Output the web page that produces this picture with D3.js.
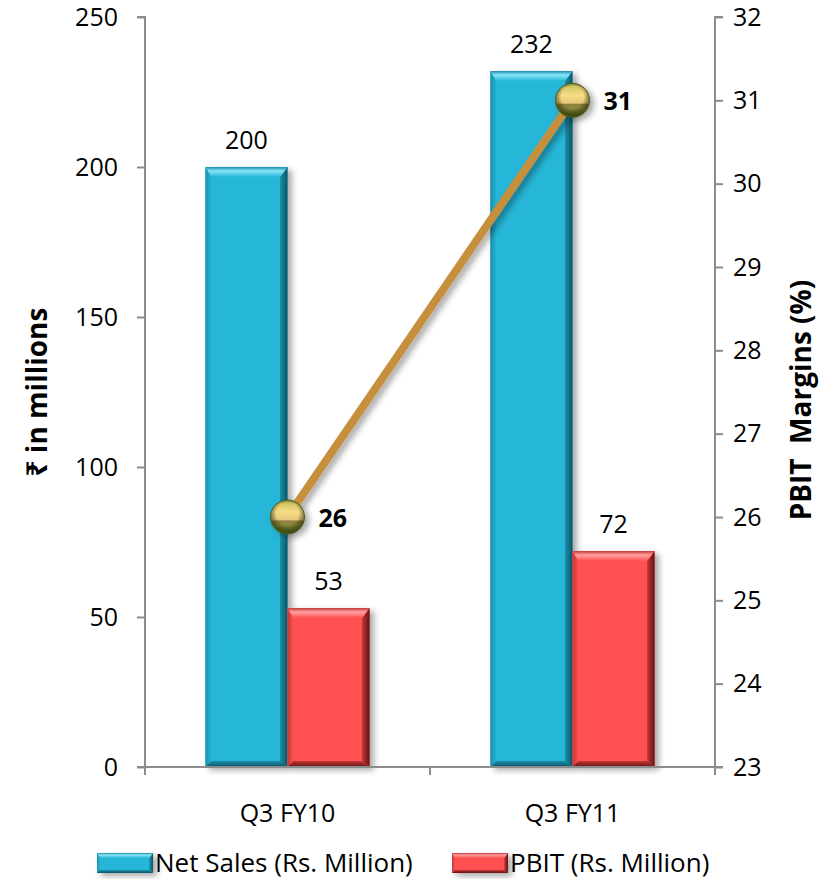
<!DOCTYPE html>
<html>
<head>
<meta charset="utf-8">
<script src="https://cdn.jsdelivr.net/npm/d3@7"></script>
<style>
  html, body { margin: 0; padding: 0; background: #fff; }
  svg text { font-family: "Open Sans", "Noto Sans", "DejaVu Sans", sans-serif; }
</style>
</head>
<body>
<svg id="chart" width="829" height="879"></svg>
<script>
// Quarterly figures
const categories = ["Q3 FY10", "Q3 FY11"];
const netSales = [200, 232];
const pbit = [53, 72];
const pbitMargin = [26, 31];
const seriesNames = ["Net Sales (Rs. Million)", "PBIT (Rs. Million)"];
const leftTicks = [0, 50, 100, 150, 200, 250];
const rightTicks = [23, 24, 25, 26, 27, 28, 29, 30, 31, 32];

const svg = d3.select("#chart");
const plot = { left: 145, right: 715, top: 17, bottom: 767 };
const fs = 25;

const x = d3.scaleBand().domain(categories).range([plot.left, plot.right]).paddingInner(0).paddingOuter(0);
const yL = d3.scaleLinear().domain([0, 250]).range([plot.bottom, plot.top]);
const yR = d3.scaleLinear().domain([23, 32]).range([plot.bottom, plot.top]);
const barW = x.bandwidth() * 0.288;

const palette = [
  { base: "#25B6D7", light: "#8AE6F7", dark: "#0D5567", mid: "#1B8FAA" },
  { base: "#FF5151", light: "#FFA0A0", dark: "#661212", mid: "#C23737" }
];

const defs = svg.append("defs");
const shadow = defs.append("filter").attr("id", "shadow")
  .attr("x", "-20%").attr("y", "-20%").attr("width", "150%").attr("height", "150%");
shadow.append("feGaussianBlur").attr("in", "SourceAlpha").attr("stdDeviation", 3);
shadow.append("feOffset").attr("dx", 4).attr("dy", 3).attr("result", "off");
shadow.append("feComponentTransfer").append("feFuncA").attr("type", "linear").attr("slope", 0.35);
const merge = shadow.append("feMerge");
merge.append("feMergeNode");
merge.append("feMergeNode").attr("in", "SourceGraphic");

palette.forEach((p, i) => {
  const gt = defs.append("linearGradient").attr("id", "top" + i).attr("x1", 0).attr("y1", 0).attr("x2", 0).attr("y2", 1);
  gt.append("stop").attr("offset", "0%").attr("stop-color", p.mid);
  gt.append("stop").attr("offset", "40%").attr("stop-color", p.light);
  gt.append("stop").attr("offset", "100%").attr("stop-color", p.base);
  const gr = defs.append("linearGradient").attr("id", "right" + i).attr("x1", 0).attr("y1", 0).attr("x2", 1).attr("y2", 0);
  gr.append("stop").attr("offset", "0%").attr("stop-color", p.mid);
  gr.append("stop").attr("offset", "100%").attr("stop-color", p.dark);
  const gl = defs.append("linearGradient").attr("id", "left" + i).attr("x1", 0).attr("y1", 0).attr("x2", 1).attr("y2", 0);
  gl.append("stop").attr("offset", "0%").attr("stop-color", p.mid);
  gl.append("stop").attr("offset", "100%").attr("stop-color", p.base);
  const gb = defs.append("linearGradient").attr("id", "bottom" + i).attr("x1", 0).attr("y1", 0).attr("x2", 0).attr("y2", 1);
  gb.append("stop").attr("offset", "0%").attr("stop-color", p.mid);
  gb.append("stop").attr("offset", "100%").attr("stop-color", p.dark);
});

// Sphere marker gradients
const sph = defs.append("linearGradient").attr("id", "sphere").attr("x1", 0).attr("y1", 0).attr("x2", 0).attr("y2", 1);
[["0%", "#8E9A3A"], ["12%", "#D6C868"], ["35%", "#F7DC86"], ["58%", "#E7C77A"], ["62%", "#8E7E3C"], ["75%", "#8D8E3B"], ["100%", "#5E7020"]]
  .forEach(([o, c]) => sph.append("stop").attr("offset", o).attr("stop-color", c));
const sphShade = defs.append("radialGradient").attr("id", "sphereShade").attr("cx", "50%").attr("cy", "40%").attr("r", "55%");
sphShade.append("stop").attr("offset", "60%").attr("stop-color", "#000").attr("stop-opacity", 0);
sphShade.append("stop").attr("offset", "100%").attr("stop-color", "#2F3A08").attr("stop-opacity", 0.7);

// Beveled bar drawing
function bevelBar(g, x0, x1, y0, y1, i, b) {
  const grp = g.append("g").attr("filter", "url(#shadow)");
  const p = palette[i];
  grp.append("rect").attr("x", x0).attr("y", y0).attr("width", x1 - x0).attr("height", y1 - y0).attr("fill", p.base);
  const poly = (pts, fill) => grp.append("polygon").attr("points", pts.map(d => d.join(",")).join(" ")).attr("fill", fill);
  poly([[x0, y0], [x0 + b * 0.6, y0 + b], [x0 + b * 0.6, y1 - b * 0.6], [x0, y1]], `url(#left${i})`);
  poly([[x1, y0], [x1, y1], [x1 - b * 0.75, y1 - b * 0.6], [x1 - b * 0.75, y0 + b]], `url(#right${i})`);
  poly([[x0, y1], [x0 + b * 0.6, y1 - b * 0.6], [x1 - b * 0.75, y1 - b * 0.6], [x1, y1]], `url(#bottom${i})`);
  poly([[x0, y0], [x1, y0], [x1 - b * 0.75, y0 + b], [x0 + b * 0.6, y0 + b]], `url(#top${i})`);
}

// Axes
const axisColor = "#8C8C8C";
const gL = svg.append("g").attr("transform", `translate(${plot.left},0)`)
  .call(d3.axisLeft(yL).tickValues(leftTicks).tickSize(8).tickPadding(19));
const gR = svg.append("g").attr("transform", `translate(${plot.right},0)`)
  .call(d3.axisRight(yR).tickValues(rightTicks).tickSize(8).tickPadding(10));
[gL, gR].forEach(g => {
  g.select(".domain").attr("stroke", axisColor).attr("stroke-width", 2);
  g.selectAll(".tick line").attr("stroke", axisColor).attr("stroke-width", 2);
  g.selectAll(".tick text").attr("font-size", fs).attr("fill", "#000");
});
gL.select(".domain").attr("d", `M-8,${plot.top}H0V${plot.bottom}H-8`);
gR.select(".domain").attr("d", `M8,${plot.top}H0V${plot.bottom}H8`);

// Bars
const barsG = svg.append("g");
categories.forEach((c, ci) => {
  const center = x(c) + x.bandwidth() / 2;
  [netSales[ci], pbit[ci]].forEach((v, si) => {
    const x0 = si === 0 ? center - barW : center;
    bevelBar(barsG, x0, x0 + barW, yL(v), yL(0), si, 10);
    svg.append("text").attr("x", x0 + barW / 2).attr("y", yL(v) - 18)
      .attr("text-anchor", "middle").attr("font-size", fs).attr("fill", "#000").text(v);
  });
});

// Category axis
const gX = svg.append("g").attr("transform", `translate(0,${plot.bottom})`)
  .call(d3.axisBottom(x).tickSize(0).tickPadding(37));
gX.select(".domain").attr("stroke", axisColor).attr("stroke-width", 2).attr("d", `M${plot.left},0H${plot.right}`);
gX.selectAll(".tick text").attr("font-size", fs).attr("fill", "#000");
gX.selectAll(".boundary").data([plot.left, (plot.left + plot.right) / 2, plot.right]).enter()
  .append("line").attr("x1", d => d).attr("x2", d => d).attr("y1", 0).attr("y2", 8)
  .attr("stroke", axisColor).attr("stroke-width", 2);

// Margin line
const pts = categories.map((c, i) => [x(c) + x.bandwidth() / 2, yR(pbitMargin[i])]);
const lineG = svg.append("g").attr("filter", "url(#shadow)");
lineG.append("path").attr("d", d3.line()(pts)).attr("fill", "none")
  .attr("stroke", "#C68F3E").attr("stroke-width", 8).attr("stroke-linecap", "round");
pts.forEach((p, i) => {
  const m = lineG.append("g");
  m.append("circle").attr("cx", p[0]).attr("cy", p[1]).attr("r", 17).attr("fill", "url(#sphere)");
  m.append("circle").attr("cx", p[0]).attr("cy", p[1]).attr("r", 17).attr("fill", "url(#sphereShade)")
    .attr("stroke", "#4E5E1A").attr("stroke-width", 1);
  svg.append("text").attr("x", p[0] + 31).attr("y", p[1] + 10)
    .attr("font-size", fs).attr("font-weight", "bold").attr("fill", "#000").text(pbitMargin[i]);
});

// Axis titles
svg.append("text").attr("transform", `translate(47,${(plot.top + plot.bottom) / 2}) rotate(-90)`)
  .attr("text-anchor", "middle").attr("font-size", 28).attr("font-weight", "bold")
  .text("₹ in millions");
svg.append("text").attr("transform", `translate(811,${(plot.top + plot.bottom) / 2 + 8}) rotate(-90)`)
  .attr("text-anchor", "middle").attr("font-size", 28).attr("font-weight", "bold")
  .style("white-space", "pre").text("PBIT  Margins (%)");

// Legend
const legendX = [97, 452];
seriesNames.forEach((name, i) => {
  const lg = svg.append("g");
  bevelBar(lg, legendX[i], legendX[i] + 56, 853, 873, i, 5);
  svg.append("text").attr("x", legendX[i] + 58).attr("y", 872).attr("font-size", 26).attr("fill", "#000").text(name);
});
</script>
</body>
</html>
